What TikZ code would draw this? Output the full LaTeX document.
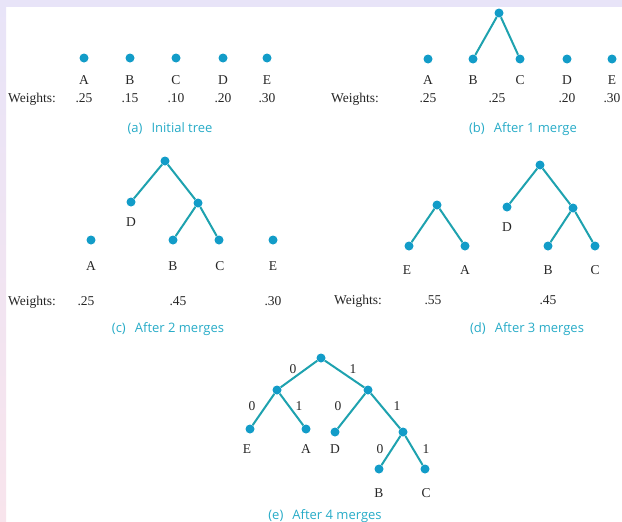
\documentclass[tikz,border=0pt]{standalone}
\usepackage{fontspec}
\setmainfont{Liberation Serif}
\newfontfamily\capfont{Open Sans}
\definecolor{dotc}{RGB}{18,156,200}
\definecolor{linec}{RGB}{30,162,175}
\definecolor{capc}{RGB}{40,172,200}
\definecolor{lav}{RGB}{232,228,248}
\definecolor{pinkish}{RGB}{248,228,236}
\begin{document}
\begin{tikzpicture}[x=1pt,y=-1pt,
  dot/.style={circle,fill=dotc,inner sep=0pt,minimum size=9pt},
  lbl/.style={font=\fontsize{13.5}{13.5}\selectfont,inner sep=0pt,anchor=base,text=black!85},
  capt/.style={font=\capfont\fontsize{13}{13}\selectfont,text=capc,inner sep=0pt,anchor=base},
  conn/.style={draw=linec,line width=2pt}]
\useasboundingbox (0,0) rectangle (622,522);
\fill[white] (0,0) rectangle (622,522);
\fill[lav] (0,0) rectangle (622,7);
\shade[top color=lav,bottom color=pinkish] (0,0) rectangle (6,522);

% ---------- (a) ----------
\node[dot] (aA) at (84,58) {};
\node[dot] (aB) at (130,58) {};
\node[dot] (aC) at (176,58) {};
\node[dot] (aD) at (223,58) {};
\node[dot] (aE) at (267,58) {};
\node[lbl] (aLA) at (84,84.5) {A};
\node[lbl] (aLB) at (130,84.5) {B};
\node[lbl] (aLC) at (176,84.5) {C};
\node[lbl] (aLD) at (223,84.5) {D};
\node[lbl] (aLE) at (267,84.5) {E};
\node[lbl] (aW) at (32,102.5) {Weights:};
\node[lbl] (aw1) at (84,102.5) {.25};
\node[lbl] (aw2) at (130,102.5) {.15};
\node[lbl] (aw3) at (176,102.5) {.10};
\node[lbl] (aw4) at (223,102.5) {.20};
\node[lbl] (aw5) at (267,102.5) {.30};
\node[capt] (acap) at (170,132) {(a)\hspace{0.7em}Initial tree};

% ---------- (b) ----------
\node[dot] (bR) at (499,13) {};
\node[dot] (bA) at (428,59) {};
\node[dot] (bB) at (473,59) {};
\node[dot] (bC) at (520,59) {};
\node[dot] (bD) at (567,59) {};
\node[dot] (bE) at (612,59) {};
\draw[conn] (bR) -- (bB);
\draw[conn] (bR) -- (bC);
\node[lbl] (bLA) at (428,84.5) {A};
\node[lbl] (bLB) at (473,84.5) {B};
\node[lbl] (bLC) at (520,84.5) {C};
\node[lbl] (bLD) at (567,84.5) {D};
\node[lbl] (bLE) at (612,84.5) {E};
\node[lbl] (bW) at (355,102.5) {Weights:};
\node[lbl] (bw1) at (428,102.5) {.25};
\node[lbl] (bw2) at (497,102.5) {.25};
\node[lbl] (bw3) at (567,102.5) {.20};
\node[lbl] (bw4) at (612,102.5) {.30};
\node[capt] (bcap) at (523,132) {(b)\hspace{0.7em}After 1 merge};

% ---------- (c) ----------
\node[dot] (cR) at (165,161) {};
\node[dot] (cD) at (131,202) {};
\node[dot] (cI) at (198,203) {};
\node[dot] (cA) at (91,240) {};
\node[dot] (cB) at (173,240) {};
\node[dot] (cC) at (219,240) {};
\node[dot] (cE) at (273,240) {};
\draw[conn] (cR) -- (cD);
\draw[conn] (cR) -- (cI);
\draw[conn] (cI) -- (cB);
\draw[conn] (cI) -- (cC);
\node[lbl] (cLD) at (131,226.5) {D};
\node[lbl] (cLA) at (91,270.5) {A};
\node[lbl] (cLB) at (173,270.5) {B};
\node[lbl] (cLC) at (220,270.5) {C};
\node[lbl] (cLE) at (273,270.5) {E};
\node[lbl] (cW) at (32,305) {Weights:};
\node[lbl] (cw1) at (86,305) {.25};
\node[lbl] (cw2) at (178,305) {.45};
\node[lbl] (cw3) at (273,305) {.30};
\node[capt] (ccap) at (168,332.5) {(c)\hspace{0.7em}After 2 merges};

% ---------- (d) ----------
\node[dot] (dR1) at (437,205) {};
\node[dot] (dE) at (409,246) {};
\node[dot] (dA) at (465,246) {};
\draw[conn] (dR1) -- (dE);
\draw[conn] (dR1) -- (dA);
\node[dot] (dR2) at (540,165) {};
\node[dot] (dD) at (507,207) {};
\node[dot] (dI) at (573,208) {};
\node[dot] (dB) at (548,246) {};
\node[dot] (dC) at (595,246) {};
\draw[conn] (dR2) -- (dD);
\draw[conn] (dR2) -- (dI);
\draw[conn] (dI) -- (dB);
\draw[conn] (dI) -- (dC);
\node[lbl] (dLD) at (507,231.5) {D};
\node[lbl] (dLE) at (407,274.5) {E};
\node[lbl] (dLA) at (465,274.5) {A};
\node[lbl] (dLB) at (548,274.5) {B};
\node[lbl] (dLC) at (595,274.5) {C};
\node[lbl] (dW) at (358,304.5) {Weights:};
\node[lbl] (dw1) at (433,304.5) {.55};
\node[lbl] (dw2) at (548,304.5) {.45};
\node[capt] (dcap) at (527,332.5) {(d)\hspace{0.7em}After 3 merges};

% ---------- (e) ----------
\node[dot] (eR) at (321,358) {};
\node[dot] (eL) at (277,390) {};
\node[dot] (eRt) at (368,390) {};
\node[dot] (eE) at (250,429) {};
\node[dot] (eA) at (306,429) {};
\node[dot] (eD) at (335,432) {};
\node[dot] (eI) at (403,432) {};
\node[dot] (eB) at (379,469) {};
\node[dot] (eC) at (425,469) {};
\draw[conn] (eR) -- (eL);
\draw[conn] (eR) -- (eRt);
\draw[conn] (eL) -- (eE);
\draw[conn] (eL) -- (eA);
\draw[conn] (eRt) -- (eD);
\draw[conn] (eRt) -- (eI);
\draw[conn] (eI) -- (eB);
\draw[conn] (eI) -- (eC);
\node[lbl] (eLE) at (247,453.5) {E};
\node[lbl] (eLA) at (306,453.5) {A};
\node[lbl] (eLD) at (335,453.5) {D};
\node[lbl] (eLB) at (379,497.5) {B};
\node[lbl] (eLC) at (426,497.5) {C};
\node[lbl] (eb1) at (293,373.5) {0};
\node[lbl] (eb2) at (353,373.5) {1};
\node[lbl] (eb3) at (252,410.5) {0};
\node[lbl] (eb4) at (299,410.5) {1};
\node[lbl] (eb5) at (338,410.5) {0};
\node[lbl] (eb6) at (397,410.5) {1};
\node[lbl] (eb7) at (380,453.5) {0};
\node[lbl] (eb8) at (426,453.5) {1};
\node[capt] (ecap) at (325,519.5) {(e)\hspace{0.7em}After 4 merges};
\end{tikzpicture}
\end{document}
